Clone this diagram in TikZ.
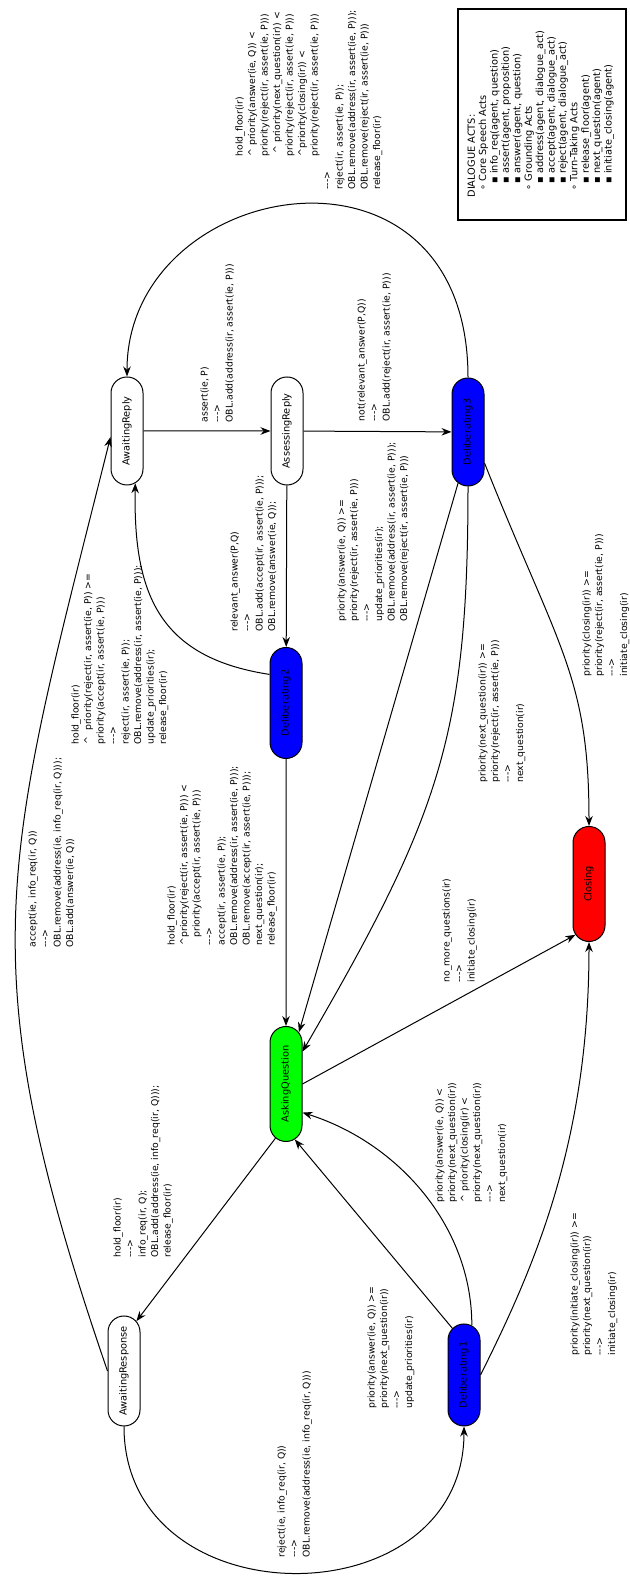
\documentclass[tikz,border=0pt]{standalone}
\usepackage{fontspec}
\newfontfamily\gvfont{DejaVu Sans}
\usetikzlibrary{shapes.misc,arrows.meta}

\begin{document}
\begin{tikzpicture}[x=1pt, y=1pt, rotate=90, transform shape, line width=1pt,
		state/.style={draw, rounded rectangle, minimum width=108pt, minimum height=32pt, inner sep=0pt, font=\gvfont\fontsize{9.8}{11}\selectfont},
		edge/.style={-{Stealth[length=10pt, width=7.5pt]}},
		lbl/.style={anchor=north west, align=left, inner sep=0pt, font=\gvfont\fontsize{9.3}{12.5}\selectfont}]
		\useasboundingbox (0,0) rectangle (1576,-629);
		\node[state] (ar) at (1145,-127) {AwaitingReply};
		\node[state] (asr) at (1145,-287) {AssessingReply};
		\node[state, fill=blue] (d3) at (1144,-468) {Deliberating3};
		\node[state, fill=blue, minimum width=111pt] (d2) at (873,-286) {Deliberating2};
		\node[state, fill=green, minimum width=115pt] (aq) at (492,-286) {AskingQuestion};
		\node[state, fill=red, minimum width=115pt] (cl) at (692,-589) {Closing};
		\node[state, minimum width=110pt] (awr) at (205,-124) {AwaitingResponse};
		\node[state, fill=blue, minimum width=102pt] (d1) at (201,-464) {Deliberating1};
		\draw[edge] (ar) -- (asr);
		\draw[edge] (asr) -- (d3);
		\draw[edge] (asr) -- (d2);
		\draw[edge] (d2) -- (aq);
		\draw[edge] (d2.30) .. controls +(17,111) and +(-110,2) .. (ar.189);
		\draw[edge] (awr.north) .. controls +(413,142) and +(-424,106) .. (ar.110);
		\draw[edge] (d3.east) .. controls +(260,0) and +(200,0) .. (ar.east);
		\draw[edge] (aq.169) -- (awr.-14);
		\draw[edge] (d3.169) -- (aq.-14);
		\draw[edge] (d3.west) .. controls +(-250,0) and +(236,-137) .. (aq.-27);
		\draw[edge] (d3.208) .. controls +(-186,-74) and +(150,0) .. (cl.east);
		\draw[edge] (aq.south) -- (cl.165);
		\draw[edge] (d1.14) -- (aq.189);
		\draw[edge] (d1.-9) .. controls +(100,0) and +(-30,-95) .. (aq.210);
		\draw[edge] (awr.west) .. controls +(-195,0) and +(-195,0) .. (d1.west);
		\draw[edge] (d1.south) .. controls +(108,-54) and +(-200,0) .. (cl.west);
		\node[lbl] (l1) at (1153,-200) {assert(ie, P)\\--->\\OBL.add(address(ir, assert(ie, P)))};
		\node[lbl] (l2) at (1154,-357) {not(relevant\_answer(P,Q))\\--->\\OBL.add(reject(ir, assert(ie, P)))};
		\node[lbl] (l3) at (944,-230) {relevant\_answer(P,Q)\\--->\\OBL.add(accept(ir, assert(ie, P)));\\OBL.remove(answer(ie, Q));};
		\node[lbl] (l4) at (831,-71) {hold\_floor(ir)\\\textasciicircum\ \ priority(reject(ir, assert(ie, P)) >=\\priority(accept(ir, assert(ie, P)))\\--->\\reject(ir, assert(ie, P));\\OBL.remove(address(ir, assert(ie, P)));\\update\_priorities(ir);\\release\_floor(ir)};
		\node[lbl] (l5) at (628,-28) {accept(ie, info\_req(ir, Q))\\--->\\OBL.remove(address(ie, info\_req(ir, Q)));\\OBL.add(answer(ie, Q))};
		\node[lbl] (l6) at (318,-113) {hold\_floor(ir)\\--->\\info\_req(ir, Q);\\OBL.add(address(ie, info\_req(ir, Q)));\\release\_floor(ir)};
		\node[lbl] (l7) at (630,-167) {hold\_floor(ir)\\\textasciicircum priority(reject(ir, assert(ie, P))) <\\\hspace*{8pt}priority(accept(ir, assert(ie, P)))\\--->\\accept(ir, assert(ie, P));\\OBL.remove(address(ir, assert(ie, P)));\\OBL.remove(accept(ir, assert(ie, P)));\\next\_question(ir);\\release\_floor(ir)};
		\node[lbl] (l8) at (1386,-235) {\hspace*{33pt}hold\_floor(ir)\\\hspace*{33pt}\textasciicircum\ priority(answer(ie, Q)) <\\\hspace*{33pt}priority(reject(ir, assert(ie, P)))\\\hspace*{36pt}\textasciicircum\ priority(next\_question(ir)) <\\\hspace*{33pt}priority(reject(ir, assert(ie, P)))\\\hspace*{33pt}\textasciicircum priority(closing(ir)) <\\\hspace*{33pt}priority(reject(ir, assert(ie, P)))\\--->\\reject(ir, assert(ie, P));\\OBL.remove(address(ir, assert(ie, P)));\\OBL.remove(reject(ir, assert(ie, P)))\\release\_floor(ir)};
		\node[lbl] (l9) at (954,-337) {priority(answer(ie, Q)) >=\\priority(reject(ir, assert(ie, P)))\\--->\\update\_priorities(ir);\\OBL.remove(address(ir, assert(ie, P)));\\OBL.remove(reject(ir, assert(ie, P)))};
		\node[lbl] (l10) at (899,-582) {priority(closing(ir)) >=\\priority(reject(ir, assert(ie, P)))\\--->\\initiate\_closing(ir)};
		\node[lbl] (l11) at (793,-478) {priority(next\_question(ir)) >=\\priority(reject(ir, assert(ie, P)))\\--->\\next\_question(ir)};
		\node[lbl] (l12) at (593,-442) {no\_more\_questions(ir)\\--->\\initiate\_closing(ir)};
		\node[lbl] (l13) at (373,-435) {priority(answer(ie, Q)) <\\priority(next\_question(ir))\\\textasciicircum\ priority(closing(ir) <\\priority(next\_question(ir))\\--->\\next\_question(ir)};
		\node[lbl] (l14) at (167,-367) {priority(answer(ie, Q)) >=\\priority(next\_question(ir))\\--->\\update\_priorities(ir)};
		\node[lbl] (l15) at (18,-277) {reject(ie, info\_req(ir, Q))\\--->\\OBL.remove(address(ie, info\_req(ir, Q)))};
		\node[lbl] (l16) at (220,-570) {priority(initiate\_closing(ir)) >=\\priority(next\_question(ir))\\--->\\initiate\_closing(ir)};
		\draw[line width=1.4pt] (1356,-458) rectangle (1567,-626);
		\node[lbl, font=\gvfont\fontsize{9.8}{11.4}\selectfont] (legend) at (1378,-467) {DIALOGUE ACTS:\\
			\hspace*{7pt}∘ Core Speech Acts\\
			\hspace*{14pt}▪ info\_req(agent, question)\\
			\hspace*{14pt}▪ assert(agent, proposition)\\
			\hspace*{14pt}▪ answer(agent, question)\\
			\hspace*{7pt}∘ Grounding Acts\\
			\hspace*{14pt}▪ address(agent, dialogue\_act)\\
			\hspace*{14pt}▪ accept(agent, dialogue\_act)\\
			\hspace*{14pt}▪ reject(agent, dialogue\_act)\\
			\hspace*{7pt}∘ Turn-Taking Acts\\
			\hspace*{14pt}▪ release\_floor(agent)\\
			\hspace*{14pt}▪ next\_question(agent)\\
			\hspace*{14pt}▪ initiate\_closing(agent)};
	\end{tikzpicture}
\end{document}
